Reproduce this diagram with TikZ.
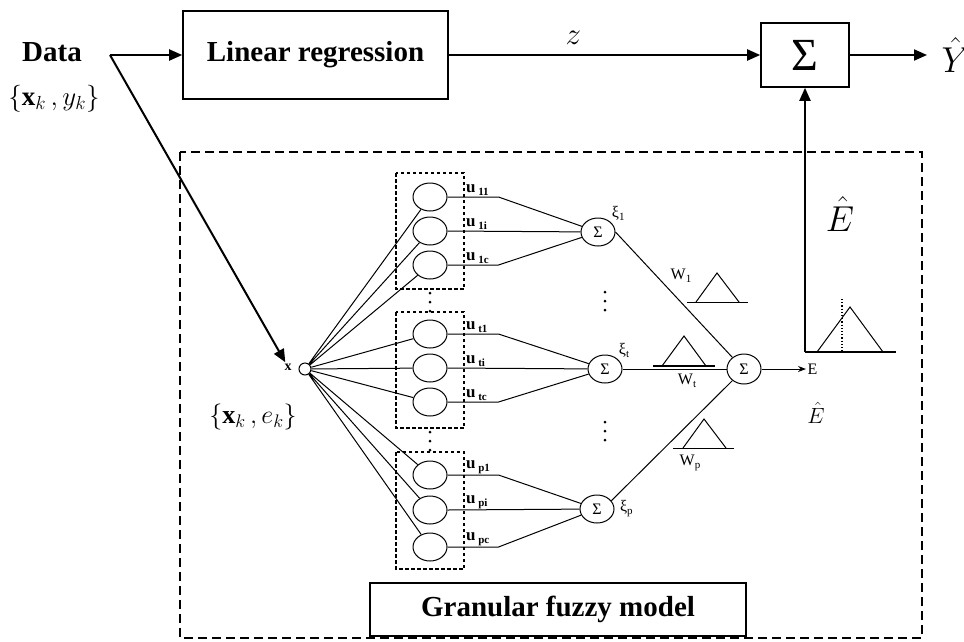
\RequirePackage{fix-cm}
\documentclass[tikz,border=0pt]{standalone}
\usepackage{fontspec}
\setmainfont{Liberation Serif}
\usetikzlibrary{arrows.meta, shapes.geometric}
\newcommand{\lowsub}[1]{\raisebox{-3pt}{\fontsize{11}{11}\selectfont #1}}

\begin{document}
\begin{tikzpicture}[
    x=1pt, y=-1pt,
    >=Stealth,
    line width=1pt,
    mainarrow/.style={-{Triangle[length=13pt,width=11pt]}, line width=2pt},
    thinarrow/.style={-{Stealth[length=8pt,width=6pt]}, line width=1pt},
    blockbox/.style={draw, line width=1.6pt, inner sep=0pt},
    neuron/.style={draw, ellipse, minimum width=34pt, minimum height=28pt, inner sep=0pt},
    sumnode/.style={draw, ellipse, minimum width=34pt, minimum height=28pt, inner sep=0pt, font=\fontsize{16}{16}\selectfont},
    groupbox/.style={draw, dash pattern=on 3.5pt off 2.5pt, line width=1.1pt},
    ulabel/.style={anchor=south west, inner sep=1pt, font=\fontsize{17}{17}\selectfont\bfseries},
    smalllabel/.style={inner sep=1pt, font=\fontsize{16}{16}\selectfont},
    bigtext/.style={font=\fontsize{29}{32}\selectfont\bfseries}
]
    \useasboundingbox (0,0) rectangle (964,641);

    % Data source and linear part
    \node[bigtext] (data) at (52,52) {Data};
    \node[font=\fontsize{27}{27}\selectfont] (datalab) at (54,99) {$\{\mathbf{x}_k\,, y_k\}$};
    \coordinate (split) at (110,55);
    \node[blockbox, bigtext, minimum width=265pt, minimum height=88pt] (linreg) at (315.5,55) {Linear regression};
    \node[blockbox, minimum width=88pt, minimum height=64pt, font=\fontsize{46}{46}\selectfont] (sumout) at (805,55) {Σ};
    \node[anchor=west, inner xsep=14pt, font=\fontsize{36}{36}\selectfont] (yhat) at (927,55) {$\hat{Y}$};

    \draw[mainarrow] (split) -- (linreg.west);
    \draw[mainarrow] (linreg.east) -- node[pos=0.4, above=6pt, font=\fontsize{31}{31}\selectfont] {$z$} (sumout.west);
    \draw[mainarrow] (sumout.east) -- (yhat.west);

    % Granular fuzzy model frame
    \draw[dash pattern=on 9pt off 5pt, line width=1.6pt] (180,152) rectangle (922,638);
    \node[blockbox, bigtext, minimum width=376pt, minimum height=53pt] (gfm) at (558,609.5) {Granular fuzzy model};

    % Input
    \node[draw, circle, minimum size=12pt, inner sep=0pt] (xin) at (305,369) {};
    \node[inner sep=1pt, font=\fontsize{14}{14}\selectfont\bfseries] (xlab) at (288,367) {x};
    \node[font=\fontsize{26}{26}\selectfont] (xelab) at (253,417) {$\{\mathbf{x}_k\,, e_k\}$};
    \draw[mainarrow] (split) -- (xlab);

    % Membership groups
    \draw[groupbox] (396,173) rectangle (464,289);
    \draw[groupbox] (396,312) rectangle (464,428);
    \draw[groupbox] (396,452) rectangle (464,569);
    \node[neuron] (m11) at (430,197) {};
    \node[neuron] (m1i) at (430,231) {};
    \node[neuron] (m1c) at (430,265) {};
    \node[neuron] (mt1) at (430,334) {};
    \node[neuron] (mti) at (430,368) {};
    \node[neuron] (mtc) at (430,402) {};
    \node[neuron] (mp1) at (430,475) {};
    \node[neuron] (mpi) at (430,510) {};
    \node[neuron] (mpc) at (430,547) {};
    \fill (430,293) circle (1.5) (430,302) circle (1.5) (430,311) circle (1.5);
    \fill (430,432) circle (1.5) (430,441) circle (1.5) (430,450) circle (1.5);

    % Input lines
    \draw (xin) -- (m11) (xin) -- (m1i) (xin) -- (m1c);
    \draw (xin) -- (mt1) (xin) -- (mti) (xin) -- (mtc);
    \draw (xin) -- (mp1) (xin) -- (mpi) (xin) -- (mpc);

    % Rule sums
    \node[sumnode] (s1) at (598,232) {Σ};
    \node[sumnode] (st) at (605,369) {Σ};
    \node[sumnode] (sp) at (597,509) {Σ};
    \node[smalllabel, anchor=south west] (xi1) at (s1.north east) {ξ\lowsub{1}};
    \node[smalllabel, anchor=south west] (xit) at (st.north east) {ξ\lowsub{t}};
    \node[smalllabel, anchor=west] (xip) at ([xshift=4pt]sp.east) {ξ\lowsub{p}};

    % Membership grades to sums
    \draw (m11.east) -- node[ulabel, at start, xshift=17pt] {u\,\lowsub{11}} ++(51,0) -- (s1);
    \draw (m1i.east) -- node[ulabel, at start, xshift=17pt] {u\,\lowsub{1i}} (s1);
    \draw (m1c.east) -- node[ulabel, at start, xshift=17pt] {u\,\lowsub{1c}} ++(51,0) -- (s1);
    \draw (mt1.east) -- node[ulabel, at start, xshift=17pt] {u\,\lowsub{t1}} ++(51,0) -- (st);
    \draw (mti.east) -- node[ulabel, at start, xshift=17pt] {u\,\lowsub{ti}} (st);
    \draw (mtc.east) -- node[ulabel, at start, xshift=17pt] {u\,\lowsub{tc}} ++(51,0) -- (st);
    \draw (mp1.east) -- node[ulabel, at start, xshift=17pt] {u\,\lowsub{p1}} ++(51,0) -- (sp);
    \draw (mpi.east) -- node[ulabel, at start, xshift=17pt] {u\,\lowsub{pi}} (sp);
    \draw (mpc.east) -- node[ulabel, at start, xshift=17pt] {u\,\lowsub{pc}} ++(51,0) -- (sp);

    % Output sum and granular weights
    \node[sumnode, minimum height=30pt] (sf) at (744,369) {Σ};
    \draw (s1.east) -- (sf.135);
    \draw (st) -- (sf);
    \draw (sp.30) -- (sf.225);
    \fill (605,292) circle (1.5) (605,301) circle (1.5) (605,310) circle (1.5);
    \fill (605,422) circle (1.5) (605,431) circle (1.5) (605,440) circle (1.5);

    \draw (687,302) -- (748,302);
    \draw (696,302) -- (717,273) -- (739,302);
    \node[smalllabel] (w1) at (681,276) {W\lowsub{1}};
    \draw[line width=1.4pt] (653,366) -- (715,366);
    \draw (662,366) -- (684,336) -- (706,366);
    \node[smalllabel] (wt) at (687,381) {W\lowsub{t}};
    \draw (673,448) -- (734,448);
    \draw (683,448) -- (704,419) -- (726,448);
    \node[smalllabel] (wp) at (690,463) {W\lowsub{p}};

    % Granular output
    \node[smalllabel, anchor=west] (elab) at (806,369) {E};
    \draw[thinarrow] (sf) -- (elab);
    \node[font=\fontsize{22}{22}\selectfont] (ehatsmall) at (816,413) {$\hat{E}$};

    \coordinate (eaxis) at (805,352);
    \draw[line width=1.4pt] (eaxis) -- (896,352);
    \draw (817,352) -- (850,307) -- (883,352);
    \draw[dotted, line width=1.2pt] (842,299) -- (842,352);
    \draw[mainarrow] (eaxis) -- (sumout.south);
    \node[font=\fontsize{36}{36}\selectfont] (ehatbig) at (840,214) {$\hat{E}$};

\end{tikzpicture}
\end{document}
